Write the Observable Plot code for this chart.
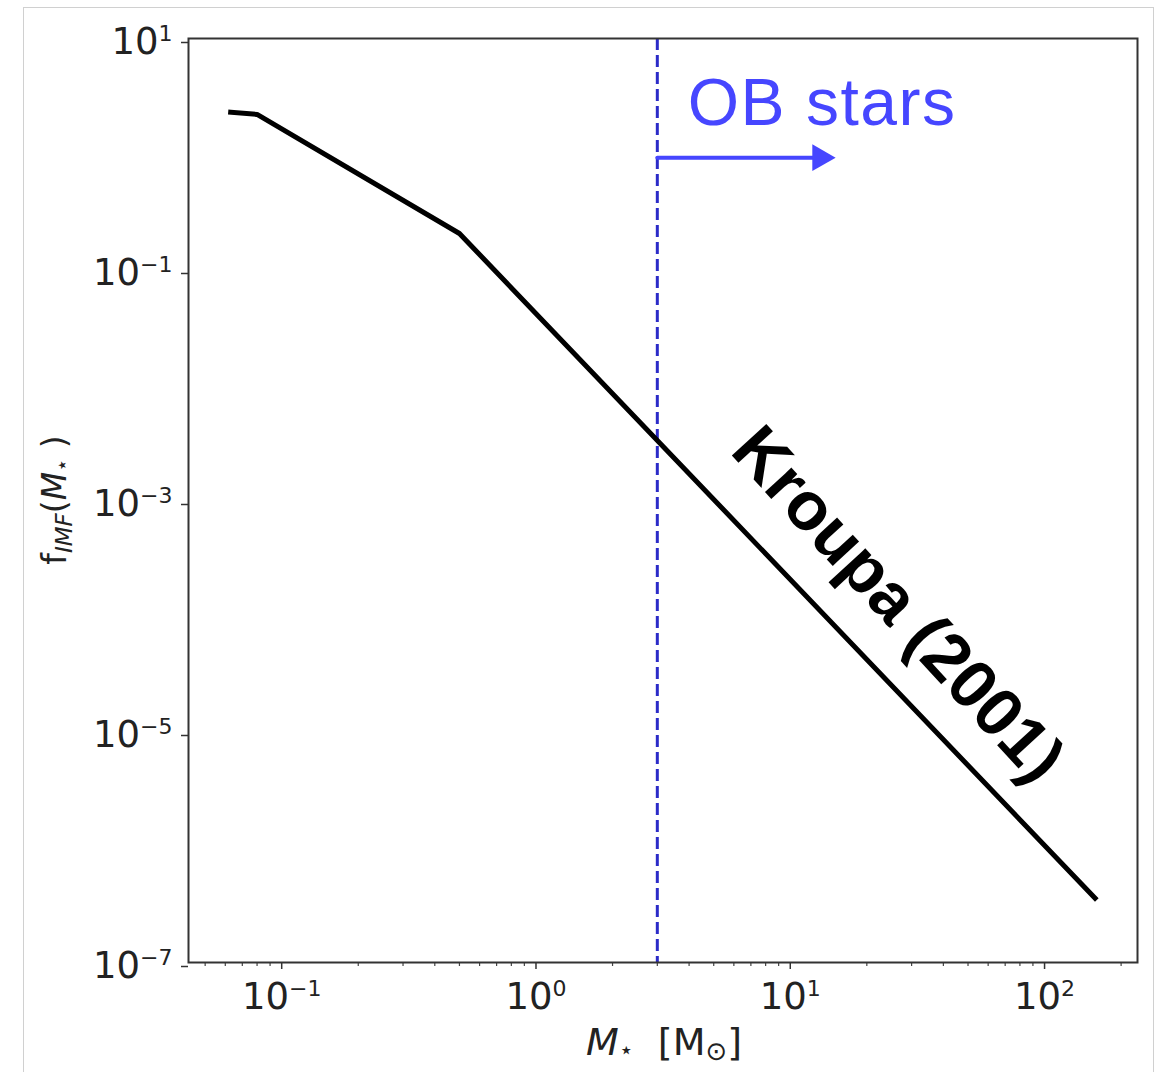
<!DOCTYPE html>
<html><head><meta charset="utf-8">
<script src="https://cdn.jsdelivr.net/npm/d3@7"></script>
<script src="https://cdn.jsdelivr.net/npm/@observablehq/plot@0.6"></script>
<style>
body{margin:0;background:#fff;}
#wrap{position:relative;width:1162px;height:1072px;overflow:hidden;background:#fff;}
#border{position:absolute;left:23px;top:7px;width:1131px;height:1100px;border:1.5px solid #d0d0d0;box-sizing:border-box;}
#chart{position:absolute;left:0;top:0;}
</style></head><body>
<div id="wrap"><div id="border"></div><div id="chart"></div></div>
<script>
// Kroupa (2001) IMF
const massKnots = [0.063, 0.08, 0.5, 158];
const imfValues = [2.3, 2.2, 0.205, 3.6e-7];
// OB-star mass threshold and arrow annotation
const obMassCut = [3];
const arrowMass = [3, 12.5];
const arrowF = [0.93, 0.93];
const arrowHeadMass = [13.1];
const obLabel = ["OB stars"];
const obLabelMass = [3.95];
const obLabelF = [1.77];
const kroupaLabel = ["Kroupa (2001)"];
const kroupaLabelMass = [26.5];
const kroupaLabelF = [1.25e-4];
// ticks
const majorTicksX = [0.1, 1, 10, 100];
const minorTicksX = [0.05, 0.06, 0.07, 0.08, 0.09, 0.2, 0.3, 0.4, 0.5, 0.6, 0.7, 0.8, 0.9,
  2, 3, 4, 5, 6, 7, 8, 9, 20, 30, 40, 50, 60, 70, 80, 90, 200];
const majorTicksY = [1e-7, 1e-5, 1e-3, 1e-1, 10];

const imf = massKnots.map((m, i) => ({m, f: imfValues[i]}));
const arrow = arrowMass.map((m, i) => ({m, f: arrowF[i]}));
const expFmt = d => "10^" + String(Math.round(Math.log10(d))).replace("-", "\u2212");
const blue = "#4646ff";

const plot = Plot.plot({
  width: 1162, height: 1072,
  marginLeft: 188, marginRight: 25, marginTop: 38, marginBottom: 110,
  style: {background: "transparent", fontFamily: "DejaVu Sans", color: "#222"},
  x: {type: "log", domain: [0.043, 232]},
  y: {type: "log", domain: [1e-7, 10]},
  marks: [
    Plot.axisX(minorTicksX, {tickSize: 4, tickFormat: () => "", label: null, stroke: "#444", strokeWidth: 1.2}),
    Plot.axisX(majorTicksX, {tickSize: 7, tickPadding: 13, tickFormat: expFmt, label: null, fontSize: 37, stroke: "#333", strokeWidth: 1.5}),
    Plot.axisY(majorTicksY, {tickSize: 7, tickPadding: 9, tickFormat: expFmt, label: null, fontSize: 37, dy: 4, stroke: "#333", strokeWidth: 1.5}),
    Plot.ruleX(obMassCut, {stroke: "#2b2bc8", strokeWidth: 3, strokeDasharray: "12,5"}),
    Plot.line(imf, {x: "m", y: "f", stroke: "#000", strokeWidth: 5, strokeLinecap: "square", strokeLinejoin: "round"}),
    Plot.line(arrow, {x: "m", y: "f", stroke: blue, strokeWidth: 4}),
    Plot.dot(arrowHeadMass, {x: d => d, y: () => arrowF[0], symbol: "triangle", rotate: 90, r: 10, fill: blue, stroke: "none"}),
    Plot.text(obLabel, {x: () => obLabelMass[0], y: () => obLabelF[0], text: d => d, textAnchor: "start", lineAnchor: "bottom",
      fontSize: 66, fontFamily: "Liberation Sans", fill: blue, style: {letterSpacing: "1px"}}),
    Plot.text(kroupaLabel, {x: () => kroupaLabelMass[0], y: () => kroupaLabelF[0], text: d => d, textAnchor: "middle", lineAnchor: "middle",
      fontSize: 68, fontWeight: "bold", fontFamily: "Liberation Sans", fill: "#000", rotate: 47.5}),
    Plot.frame({stroke: "#333", strokeWidth: 2})
  ]
});

const svg = d3.select(plot);
// superscript exponents on tick labels
svg.selectAll("text").each(function() {
  const t = this.textContent;
  const m = /^10\^(.+)$/.exec(t);
  if (!m) return;
  const el = d3.select(this);
  el.text("");
  el.append("tspan").text("10");
  el.append("tspan").attr("font-size", 22).attr("dy", -13).text(m[1]);
});
svg.selectAll("text").filter(function() { return this.textContent === "OB stars"; }).style("letter-spacing", "1.5px");

// x-axis label
const xl = svg.append("text").attr("x", 664).attr("y", 1055).attr("text-anchor", "middle")
  .attr("font-family", "DejaVu Sans").attr("font-size", 38).attr("fill", "#222").style("white-space", "pre");
xl.append("tspan").attr("font-style", "italic").text("M");
xl.append("tspan").attr("font-size", 24).attr("dy", 3).text("\u22C6");
xl.append("tspan").attr("dy", -3).text("  [M");
xl.append("tspan").attr("font-size", 26).attr("dy", 5).text("\u2299");
xl.append("tspan").attr("dy", -5).text("]");

// y-axis label
const yl = svg.append("text").attr("transform", "translate(66,500) rotate(-90)").attr("text-anchor", "middle")
  .attr("font-family", "DejaVu Sans").attr("font-size", 33).attr("fill", "#222").style("white-space", "pre");
yl.append("tspan").text("f");
yl.append("tspan").attr("font-size", 23).attr("font-style", "italic").attr("dy", 6).text("IMF");
yl.append("tspan").attr("dy", -6).text("(");
yl.append("tspan").attr("font-style", "italic").text("M");
yl.append("tspan").attr("font-size", 21).attr("dy", 3).text("\u22C6");
yl.append("tspan").attr("dy", -3).text(" )");

document.getElementById("chart").appendChild(plot);
</script>
</body></html>
